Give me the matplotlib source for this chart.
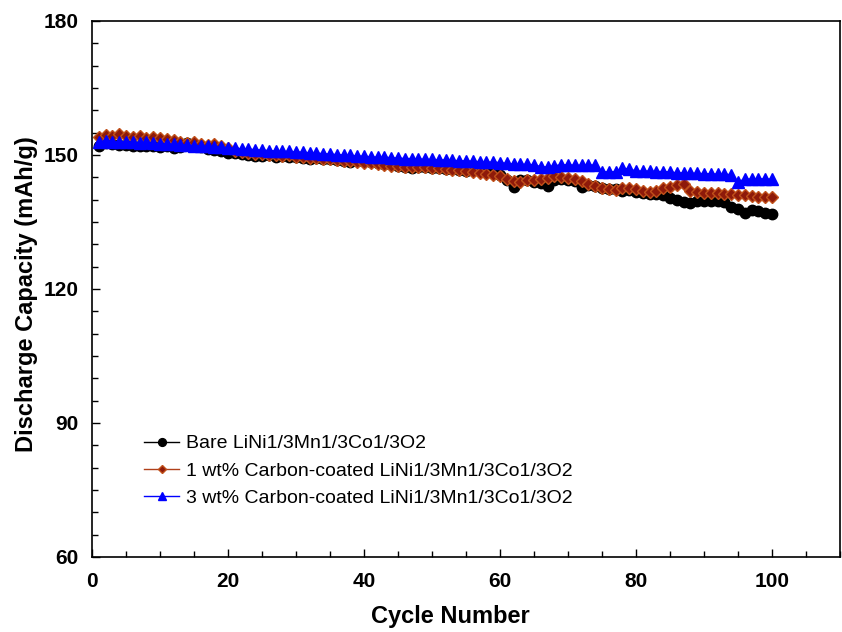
import matplotlib
matplotlib.use("Agg")
import matplotlib.pyplot as plt
from matplotlib.ticker import MultipleLocator

# discharge capacity (mAh/g) vs cycle
cycles = list(range(1, 101))

bare = [
    152.0, 152.6, 152.5, 152.3, 152.2, 152.0, 152.1, 151.9, 152.0, 151.8,
    151.9, 151.6, 151.7, 152.6, 152.3, 151.8, 151.4, 151.2, 150.8, 150.5,
    150.4, 150.2, 150.0, 149.7, 149.8, 149.9, 149.6, 149.7, 149.5, 149.6,
    149.3, 149.2, 149.3, 149.0, 149.1, 148.9, 148.6, 148.5, 148.7, 148.6,
    148.4, 148.2, 148.0, 147.9, 147.6, 147.3, 147.0, 147.2, 147.3, 147.0,
    147.1, 146.9, 146.8, 146.6, 146.5, 146.7, 146.6, 146.5, 146.2, 145.6,
    144.5, 142.8, 144.3, 144.4, 144.0, 143.8, 143.0, 144.3, 144.6, 144.5,
    144.2, 142.9, 143.2, 143.0, 142.7, 142.4, 142.3, 142.0, 142.2, 141.8,
    141.5, 141.2, 141.3, 141.0, 140.3, 139.9, 139.4, 139.3, 139.6, 139.8,
    139.7, 139.8, 139.4, 138.4, 138.0, 137.0, 137.6, 137.4, 136.9, 136.7,
]

carbon_1wt = [
    154.0, 154.5, 154.3, 154.8, 154.2, 154.0, 154.2, 153.8, 154.0, 153.9,
    153.6, 153.3, 152.9, 152.7, 152.8, 152.5, 152.2, 152.4, 151.9, 151.5,
    151.0, 150.7, 150.5, 150.3, 150.2, 150.0, 149.9, 149.8, 149.9, 149.6,
    149.5, 149.3, 149.4, 149.2, 149.0, 148.9, 148.7, 148.6, 148.4, 148.3,
    148.1, 147.9, 147.8, 147.6, 147.5, 147.4, 147.3, 147.2, 147.3, 147.1,
    147.0, 146.9, 146.7, 146.6, 146.4, 146.2, 146.0, 145.8, 145.5, 145.2,
    144.6, 144.2, 144.0, 144.3, 144.4, 144.6, 144.8, 145.2, 145.1, 144.9,
    144.6, 144.2, 143.6, 143.0, 142.7, 142.4, 142.2, 142.5, 142.6, 142.3,
    142.0, 141.8, 141.9, 142.5, 142.8, 143.3, 143.5, 142.0, 141.8, 141.6,
    141.5, 141.5, 141.3, 141.2, 141.0, 141.0, 140.8, 140.7, 140.6, 140.5,
]

carbon_3wt = [
    153.0, 153.2, 153.0, 152.9, 153.0, 152.8, 152.7, 152.8, 152.6, 152.5,
    152.4, 152.4, 152.3, 152.2, 152.1, 152.0, 151.9, 151.8, 151.8, 151.6,
    151.5, 151.4, 151.3, 151.2, 151.1, 151.0, 150.9, 150.8, 150.8, 150.7,
    150.6, 150.5, 150.4, 150.3, 150.2, 150.1, 150.0, 149.9, 149.8, 149.7,
    149.6, 149.5, 149.5, 149.4, 149.3, 149.2, 149.2, 149.1, 149.0, 149.0,
    148.9, 148.9, 148.8, 148.7, 148.7, 148.6, 148.5, 148.4, 148.4, 148.3,
    148.1, 148.0, 147.9, 147.9, 147.8, 147.4, 147.3, 147.6, 147.8, 147.8,
    147.7, 147.7, 147.8, 147.7, 146.3, 146.2, 146.3, 147.0, 146.9, 146.4,
    146.4, 146.4, 146.3, 146.3, 146.2, 146.0, 146.0, 145.9, 145.9, 145.8,
    145.8, 145.7, 145.7, 145.6, 144.0, 144.6, 144.6, 144.7, 144.6, 144.6,
]

labels = [
    "Bare LiNi1/3Mn1/3Co1/3O2",
    "1 wt% Carbon-coated LiNi1/3Mn1/3Co1/3O2",
    "3 wt% Carbon-coated LiNi1/3Mn1/3Co1/3O2",
]

plt.rcParams["font.family"] = ["Liberation Sans", "DejaVu Sans"]

fig = plt.figure(figsize=(8.42, 6.32), dpi=100)
ax = fig.add_axes([0.1093, 0.1187, 0.8883, 0.8481])

ax.plot(cycles, bare, color="black", lw=1, marker="o", ms=7.5,
        mfc="black", mec="black", label=labels[0], zorder=3)
ax.plot(cycles, carbon_1wt, color="#B0401A", lw=1, marker="D", ms=6,
        mfc="#8E1A0A", mec="#C0501A", mew=1, label=labels[1], zorder=4)
ax.plot(cycles, carbon_3wt, color="blue", lw=1, marker="^", ms=8,
        mfc="blue", mec="blue", label=labels[2], zorder=5)

ax.set_xlim(0, 110)
ax.set_ylim(60, 180)
ax.set_xticks([0, 20, 40, 60, 80, 100])
ax.set_yticks([60, 90, 120, 150, 180])
ax.xaxis.set_minor_locator(MultipleLocator(5))
ax.yaxis.set_minor_locator(MultipleLocator(5))
ax.tick_params(which="both", direction="in", top=False, right=False, width=1)
ax.tick_params(which="major", length=6, labelsize=15)
ax.tick_params(which="minor", length=4)
ax.tick_params(axis="x", which="major", pad=11)
ax.tick_params(axis="y", which="major", pad=10)
for lab in ax.get_xticklabels() + ax.get_yticklabels():
    lab.set_fontweight("bold")
for sp in ax.spines.values():
    sp.set_linewidth(1.2)

ax.set_xlabel("Cycle Number", fontsize=17, fontweight="bold")
ax.set_ylabel("Discharge Capacity (mAh/g)", fontsize=17, fontweight="bold")
ax.xaxis.set_label_coords(0.479, -0.09)
ax.yaxis.set_label_coords(-0.072, 0.49)

leg = ax.legend(loc="lower left", bbox_to_anchor=(0.057, 0.075), frameon=False,
                fontsize=14, markerscale=0.75, handlelength=1.8,
                handletextpad=0.35, labelspacing=0.5, borderpad=0)

fig.savefig("out.png", dpi=100)
